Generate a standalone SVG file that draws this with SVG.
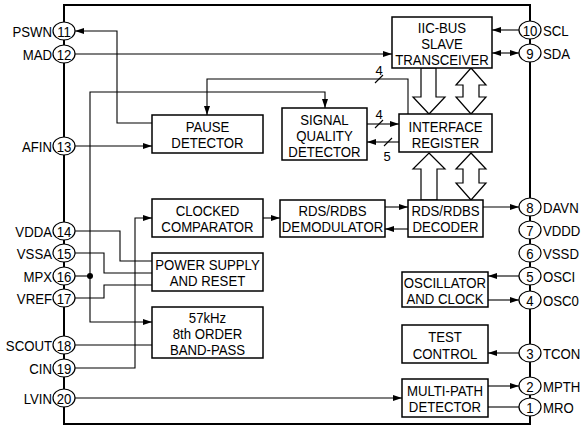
<svg xmlns="http://www.w3.org/2000/svg" width="582" height="426" viewBox="0 0 582 426">
<style>
text{font-family:"Liberation Sans",Arial,sans-serif;font-size:15px;fill:#000}
.c{text-anchor:middle}
.e{text-anchor:end}
.s{font-size:13px}
.box{fill:#fff;stroke:#000;stroke-width:1.5}
.pin ellipse{fill:#fff;stroke:#000;stroke-width:1.2}
.frame{fill:none;stroke:#000;stroke-width:2}
#conn path{fill:none;stroke:#000;stroke-width:1.1}
.big{fill:#fff;stroke:#000;stroke-width:1.2}
</style>
<defs>
<marker id="a" markerWidth="9" markerHeight="6" refX="9" refY="3" orient="auto-start-reverse" markerUnits="userSpaceOnUse"><path d="M0,0 L9,3 L0,6 z" fill="#000"/></marker>
</defs>
<rect class="frame" x="64" y="5" width="466" height="419"/>
<g id="conn">
<path d="M152,123 H117 V31 H75" marker-end="url(#a)"/>
<path d="M75,54 H392" marker-end="url(#a)"/>
<path d="M75,146 H152" marker-end="url(#a)"/>
<path d="M408,114 V79 H207 V115" marker-end="url(#a)"/>
<path d="M375,83 L383,75"/>
<path d="M75,276 H90"/>
<path d="M90,276 V92 H325 V108" marker-end="url(#a)"/>
<path d="M90,276 V322 H152" marker-end="url(#a)"/>
<path d="M367,124 H399" marker-end="url(#a)"/>
<path d="M375,128 L383,120"/>
<path d="M399,142 H367" marker-end="url(#a)"/>
<path d="M384,146 L392,138"/>
<path d="M519,30 H492" marker-end="url(#a)"/>
<path d="M492,53 H519" marker-start="url(#a)" marker-end="url(#a)"/>
<path d="M483,207 H519" marker-end="url(#a)"/>
<path d="M385,207 H408" marker-end="url(#a)"/>
<path d="M408,229 H385" marker-end="url(#a)"/>
<path d="M263,218 H280" marker-end="url(#a)"/>
<path d="M75,368 H135 V218 H152" marker-end="url(#a)"/>
<path d="M75,231 H120 V261 H152"/>
<path d="M75,253 H104 V273 H152"/>
<path d="M75,298 H104 V285 H152"/>
<path d="M75,345 H152"/>
<path d="M75,398 H402" marker-end="url(#a)"/>
<path d="M519,276 H488" marker-end="url(#a)"/>
<path d="M488,300 H519" marker-end="url(#a)"/>
<path d="M519,353 H488" marker-end="url(#a)"/>
<path d="M488,386 H519" marker-end="url(#a)"/>
<path d="M488,407 H519"/>
<circle cx="90" cy="276" r="3" fill="#000"/>
<polygon class="big" points="421,68 436,68 436,97 445,97 429,114 413,97 421,97"/>
<polygon class="big" points="471,68 486,85 479,85 479,97 486,97 471,114 456,97 463,97 463,85 456,85"/>
<polygon class="big" points="429,153 445,169 437,169 437,200 421,200 421,169 413,169"/>
<polygon class="big" points="471,153 486,169 479,169 479,183 486,183 471,200 456,183 463,183 463,169 456,169"/>
<text class="c s" x="379" y="75">4</text>
<text class="c s" x="379" y="119">4</text>
<text class="c s" x="387" y="161">5</text>
</g>
<g id="iic"><rect class="box" x="392" y="17" width="100" height="51"/><g transform="translate(442,0) scale(.88 1)"><text class="c" y="33">IIC-BUS</text><text class="c" y="49">SLAVE</text><text class="c" y="65">TRANSCEIVER</text></g></g>
<g id="pause"><rect class="box" x="152" y="115" width="111" height="38"/><g transform="translate(207.5,0) scale(.88 1)"><text class="c" y="132.5">PAUSE</text><text class="c" y="148.5">DETECTOR</text></g></g>
<g id="sq"><rect class="box" x="282" y="108" width="85" height="52"/><g transform="translate(324.5,0) scale(.88 1)"><text class="c" y="125.5">SIGNAL</text><text class="c" y="141.5">QUALITY</text><text class="c" y="157.5">DETECTOR</text></g></g>
<g id="ir"><rect class="box" x="399" y="114" width="93" height="38"/><g transform="translate(445.5,0) scale(.88 1)"><text class="c" y="132.5">INTERFACE</text><text class="c" y="148.5">REGISTER</text></g></g>
<g id="comp"><rect class="box" x="152" y="199" width="111" height="38"/><g transform="translate(207.5,0) scale(.88 1)"><text class="c" y="216.5">CLOCKED</text><text class="c" y="232.5">COMPARATOR</text></g></g>
<g id="demod"><rect class="box" x="280" y="200" width="105" height="37"/><g transform="translate(332.5,0) scale(.88 1)"><text class="c" y="216.5">RDS/RDBS</text><text class="c" y="232.5">DEMODULATOR</text></g></g>
<g id="dec"><rect class="box" x="408" y="200" width="75" height="37"/><g transform="translate(445.5,0) scale(.88 1)"><text class="c" y="216">RDS/RDBS</text><text class="c" y="232">DECODER</text></g></g>
<g id="ps"><rect class="box" x="152" y="253" width="111" height="38"/><g transform="translate(207.5,0) scale(.88 1)"><text class="c" y="270.5">POWER SUPPLY</text><text class="c" y="286.5">AND RESET</text></g></g>
<g id="bp"><rect class="box" x="152" y="307" width="111" height="51"/><g transform="translate(207.5,0) scale(.88 1)"><text class="c" y="323">57kHz</text><text class="c" y="339">8th ORDER</text><text class="c" y="355">BAND-PASS</text></g></g>
<g id="osc"><rect class="box" x="402" y="272" width="86" height="35"/><g transform="translate(445,0) scale(.88 1)"><text class="c" y="288">OSCILLATOR</text><text class="c" y="304">AND CLOCK</text></g></g>
<g id="test"><rect class="box" x="402" y="325" width="86" height="38"/><g transform="translate(445,0) scale(.88 1)"><text class="c" y="342.5">TEST</text><text class="c" y="359">CONTROL</text></g></g>
<g id="mpd"><rect class="box" x="402" y="379" width="86" height="38"/><g transform="translate(445,0) scale(.88 1)"><text class="c" y="396">MULTI-PATH</text><text class="c" y="412">DETECTOR</text></g></g>
<g id="pin11" class="pin"><ellipse cx="64" cy="31" rx="11" ry="9"/><text class="c" transform="translate(64,36.5) scale(.88 1)">11</text><text class="e" transform="translate(52,36.5) scale(.88 1)">PSWN</text></g>
<g id="pin12" class="pin"><ellipse cx="64" cy="54" rx="11" ry="9"/><text class="c" transform="translate(64,59.5) scale(.88 1)">12</text><text class="e" transform="translate(52,59.5) scale(.88 1)">MAD</text></g>
<g id="pin13" class="pin"><ellipse cx="64" cy="146" rx="11" ry="9"/><text class="c" transform="translate(64,151.5) scale(.88 1)">13</text><text class="e" transform="translate(52,151.5) scale(.88 1)">AFIN</text></g>
<g id="pin14" class="pin"><ellipse cx="64" cy="231" rx="11" ry="9"/><text class="c" transform="translate(64,236.5) scale(.88 1)">14</text><text class="e" transform="translate(52,236.5) scale(.88 1)">VDDA</text></g>
<g id="pin15" class="pin"><ellipse cx="64" cy="253" rx="11" ry="9"/><text class="c" transform="translate(64,258.5) scale(.88 1)">15</text><text class="e" transform="translate(52,258.5) scale(.88 1)">VSSA</text></g>
<g id="pin16" class="pin"><ellipse cx="64" cy="276" rx="11" ry="9"/><text class="c" transform="translate(64,281.5) scale(.88 1)">16</text><text class="e" transform="translate(52,281.5) scale(.88 1)">MPX</text></g>
<g id="pin17" class="pin"><ellipse cx="64" cy="298" rx="11" ry="9"/><text class="c" transform="translate(64,303.5) scale(.88 1)">17</text><text class="e" transform="translate(52,303.5) scale(.88 1)">VREF</text></g>
<g id="pin18" class="pin"><ellipse cx="64" cy="345" rx="11" ry="9"/><text class="c" transform="translate(64,350.5) scale(.88 1)">18</text><text class="e" transform="translate(52,350.5) scale(.88 1)">SCOUT</text></g>
<g id="pin19" class="pin"><ellipse cx="64" cy="368" rx="11" ry="9"/><text class="c" transform="translate(64,373.5) scale(.88 1)">19</text><text class="e" transform="translate(52,373.5) scale(.88 1)">CIN</text></g>
<g id="pin20" class="pin"><ellipse cx="64" cy="398" rx="11" ry="9"/><text class="c" transform="translate(64,403.5) scale(.88 1)">20</text><text class="e" transform="translate(52,403.5) scale(.88 1)">LVIN</text></g>
<g id="pin10" class="pin"><ellipse cx="530" cy="30" rx="11" ry="9"/><text class="c" transform="translate(530,35.5) scale(.88 1)">10</text><text transform="translate(543,35.5) scale(.88 1)">SCL</text></g>
<g id="pin9" class="pin"><ellipse cx="530" cy="53" rx="11" ry="9"/><text class="c" transform="translate(530,58.5) scale(.88 1)">9</text><text transform="translate(543,58.5) scale(.88 1)">SDA</text></g>
<g id="pin8" class="pin"><ellipse cx="530" cy="207" rx="11" ry="9"/><text class="c" transform="translate(530,212.5) scale(.88 1)">8</text><text transform="translate(543,212.5) scale(.88 1)">DAVN</text></g>
<g id="pin7" class="pin"><ellipse cx="530" cy="230" rx="11" ry="9"/><text class="c" transform="translate(530,235.5) scale(.88 1)">7</text><text transform="translate(543,235.5) scale(.88 1)">VDDD</text></g>
<g id="pin6" class="pin"><ellipse cx="530" cy="253" rx="11" ry="9"/><text class="c" transform="translate(530,258.5) scale(.88 1)">6</text><text transform="translate(543,258.5) scale(.88 1)">VSSD</text></g>
<g id="pin5" class="pin"><ellipse cx="530" cy="276" rx="11" ry="9"/><text class="c" transform="translate(530,281.5) scale(.88 1)">5</text><text transform="translate(543,281.5) scale(.88 1)">OSCI</text></g>
<g id="pin4" class="pin"><ellipse cx="530" cy="300" rx="11" ry="9"/><text class="c" transform="translate(530,305.5) scale(.88 1)">4</text><text transform="translate(543,305.5) scale(.88 1)">OSC0</text></g>
<g id="pin3" class="pin"><ellipse cx="530" cy="353" rx="11" ry="9"/><text class="c" transform="translate(530,358.5) scale(.88 1)">3</text><text transform="translate(543,358.5) scale(.88 1)">TCON</text></g>
<g id="pin2" class="pin"><ellipse cx="530" cy="386" rx="11" ry="9"/><text class="c" transform="translate(530,391.5) scale(.88 1)">2</text><text transform="translate(543,391.5) scale(.88 1)">MPTH</text></g>
<g id="pin1" class="pin"><ellipse cx="530" cy="407" rx="11" ry="9"/><text class="c" transform="translate(530,412.5) scale(.88 1)">1</text><text transform="translate(543,412.5) scale(.88 1)">MRO</text></g>
</svg>
